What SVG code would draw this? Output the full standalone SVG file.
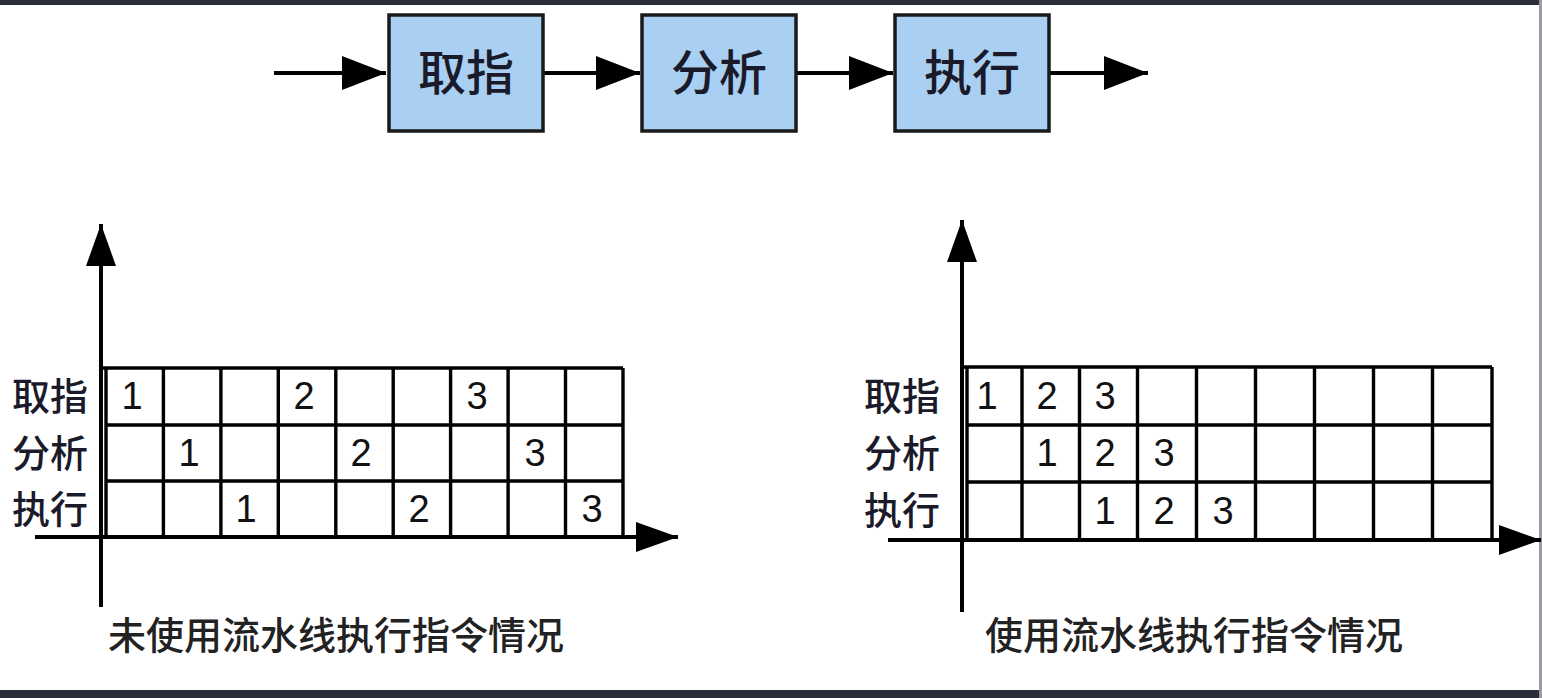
<svg xmlns="http://www.w3.org/2000/svg" width="1542" height="698" viewBox="0 0 1542 698">
<defs>
<marker id="head" markerUnits="userSpaceOnUse" markerWidth="46" markerHeight="34" refX="44" refY="17" orient="auto"><path d="M0,0 L44,17 L0,34 Z" fill="#000"/></marker>
<marker id="axhead" markerUnits="userSpaceOnUse" markerWidth="44" markerHeight="32" refX="42" refY="16" orient="auto"><path d="M0,1 L42,16 L0,31 Z" fill="#000"/></marker>
</defs>
<style>
.box{fill:#a9cff2;stroke:#1a1a1a;stroke-width:3.5}
.lbl{font-family:"Noto Sans CJK SC","Noto Sans",sans-serif;fill:#1a1a2a}
.big{font-size:48px;font-weight:500}
.row{font-size:38px;font-weight:500}
.num{font-family:"Liberation Sans Narrow","Liberation Sans",Arial,sans-serif;font-size:38px;fill:#111;text-anchor:middle}
.cap{font-family:"Noto Sans CJK SC",sans-serif;font-size:38px;fill:#222;font-weight:500}
.conn{stroke:#000;stroke-width:4;fill:none}
.grid{stroke:#000;stroke-width:3.4;fill:none}
</style>
<rect width="1542" height="698" fill="#fff"/>
<rect x="0" y="0" width="1542" height="5" fill="#2b2d3a"/>
<rect x="0" y="690" width="1542" height="8" fill="#2b2d3a"/>
<rect x="1539" y="0" width="3" height="698" fill="#9a9aa0"/>

<g id="connectors">
<line class="conn" x1="274" y1="73" x2="386" y2="73" marker-end="url(#head)"/>
<line class="conn" x1="543" y1="73" x2="640" y2="73" marker-end="url(#head)"/>
<line class="conn" x1="796" y1="73" x2="893" y2="73" marker-end="url(#head)"/>
<line class="conn" x1="1049" y1="73" x2="1148" y2="73" marker-end="url(#head)"/>
<line class="conn" x1="101" y1="607" x2="101" y2="224" marker-end="url(#axhead)"/>
<line class="conn" x1="35" y1="537" x2="678" y2="537" marker-end="url(#axhead)"/>
<line class="conn" x1="962" y1="612" x2="962" y2="220" marker-end="url(#axhead)"/>
<line class="conn" x1="888" y1="540" x2="1541" y2="540" marker-end="url(#axhead)"/>
</g>

<g id="node-fetch"><rect class="box" x="389" y="15" width="154" height="116"/><text class="lbl big" x="466" y="90" text-anchor="middle">取指</text></g>
<g id="node-decode"><rect class="box" x="642" y="15" width="154" height="116"/><text class="lbl big" x="719" y="90" text-anchor="middle">分析</text></g>
<g id="node-exec"><rect class="box" x="895" y="15" width="154" height="116"/><text class="lbl big" x="972" y="90" text-anchor="middle">执行</text></g>

<g id="chart-left">
<path class="grid" d="M101,368 H623 M106,425 H623 M106,481 H623
M106,368 V537 M163.4,368 V537 M220.9,368 V537 M278.3,368 V537 M335.8,368 V537 M393.2,368 V537 M450.6,368 V537 M508.1,368 V537 M565.5,368 V537 M623,368 V537"/>
<text class="lbl row" x="12" y="410">取指</text>
<text class="lbl row" x="12" y="467">分析</text>
<text class="lbl row" x="12" y="523">执行</text>
<text class="num" x="132" y="409">1</text>
<text class="num" x="304" y="409">2</text>
<text class="num" x="477" y="409">3</text>
<text class="num" x="189" y="466">1</text>
<text class="num" x="361" y="466">2</text>
<text class="num" x="535" y="466">3</text>
<text class="num" x="246" y="522">1</text>
<text class="num" x="419" y="522">2</text>
<text class="num" x="592" y="522">3</text>
<text class="cap" x="108" y="649">未使用流水线执行指令情况</text>
</g>

<g id="chart-right">
<path class="grid" d="M962,367 H1492 M967,425 H1492 M967,482 H1492
M967,367 V540 M1022,367 V540 M1079.5,367 V540 M1137.5,367 V540 M1196.5,367 V540 M1255.5,367 V540 M1314.5,367 V540 M1373.5,367 V540 M1432.5,367 V540 M1492,367 V540"/>
<text class="lbl row" x="864" y="410">取指</text>
<text class="lbl row" x="864" y="467">分析</text>
<text class="lbl row" x="864" y="524">执行</text>
<text class="num" x="987" y="409">1</text>
<text class="num" x="1047" y="409">2</text>
<text class="num" x="1105" y="409">3</text>
<text class="num" x="1047" y="466">1</text>
<text class="num" x="1105" y="466">2</text>
<text class="num" x="1164" y="466">3</text>
<text class="num" x="1105" y="524">1</text>
<text class="num" x="1164" y="524">2</text>
<text class="num" x="1223" y="524">3</text>
<text class="cap" x="985" y="649">使用流水线执行指令情况</text>
</g>
</svg>
